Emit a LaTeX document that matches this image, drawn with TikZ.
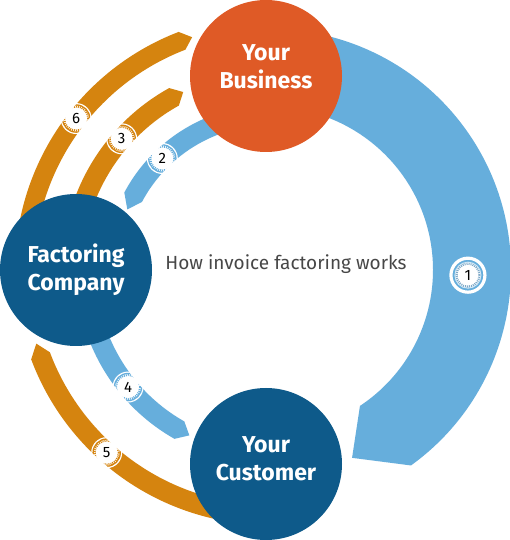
\documentclass[tikz,border=0pt]{standalone}
\usepackage{fontspec}
\setmainfont{Fira Sans}
\definecolor{bizorange}{HTML}{DF5A26}
\definecolor{darkblue}{HTML}{0E5A8A}
\definecolor{bandblue}{HTML}{66AEDC}
\definecolor{bandorange}{HTML}{D5840F}
\definecolor{textgray}{HTML}{474747}
\definecolor{gearblue}{HTML}{7FA9C8}
\newcommand\bandarc[6]{% color, rin, rout, start, end, tip
  \fill[#1] (#4:#2) arc[start angle=#4,end angle=#5,radius=#2]
    -- (#6:{(#2+#3)/2}) -- (#5:#3)
    arc[start angle=#5,end angle=#4,radius=#3] -- cycle;}
\newcommand\badge[6]{% angle, r, color, rin, rout, number
  \fill[white] (#1:#2) circle (15.5);
  \begin{scope}[even odd rule]
    \clip (0,0) circle (#4) (0,0) circle (#5);
    \draw[#3, line width=1.3] (#1:#2) circle (13.6);
    \draw[#3, line width=2.2, dash pattern=on 1pt off 1pt] (#1:#2) circle (12);
  \end{scope}
  \fill[white] (#1:#2) circle (10.8);
  \node[numtext] (b#6) at (#1:#2) {#6};}
\tikzset{
  circ/.style={circle, minimum size=152pt, inner sep=0pt},
  lbl/.style={text=white, align=center, font=\fontsize{23}{28}\selectfont\bfseries},
  numtext/.style={inner sep=0pt, text=black, font=\fontsize{15}{16}\selectfont},
}
\begin{document}
\begin{tikzpicture}[x=1pt,y=1pt]
\useasboundingbox (0,0) rectangle (510,540);
\fill[white] (0,0) rectangle (510,540);
\begin{scope}[shift={(270,270)}]
  % arc 1
  \fill[bandblue] (90:163) arc[start angle=90,end angle=-56.5,radius=163]
    -- (-66.4:205) -- (-54.2:241) arc[start angle=-54.2,end angle=90,radius=241] -- cycle;
  \bandarc{bandblue}{145}{165}{100}{152}{157}
  \bandarc{bandorange}{188}{208}{175}{119}{116}
  \bandarc{bandorange}{236}{255}{178}{111}{108.5}
  \bandarc{bandblue}{174}{194}{195}{240.5}{244}
  \bandarc{bandorange}{235}{255}{265}{200.5}{197.5}
  % badges
  \badge{142}{246}{bandorange}{236}{255}{6}
  \badge{138.5}{198}{bandorange}{188}{208}{3}
  \badge{134}{155}{bandblue}{145}{165}{2}
  \badge{219.5}{184}{bandblue}{174}{194}{4}
  \badge{228.2}{245}{bandorange}{235}{255}{5}
  % badge 1
  \draw[white, line width=3.2] (-1.5:198) circle (17);
  \draw[white!70!bandblue, line width=1] (-1.5:198) circle (13);
  \fill[white] (-1.5:198) circle (12.4);
  \draw[gearblue, line width=2.2, dash pattern=on 1pt off 1pt] (-1.5:198) circle (11.3);
  \fill[white] (-1.5:198) circle (10.2);
  \node[numtext] (b1) at (-1.5:198) {1};
\end{scope}
\node[circ, fill=bizorange] (biz) at (266,464) {};
\node[circ, fill=darkblue] (fac) at (76,270) {};
\node[circ, fill=darkblue] (cus) at (266,76) {};
\node[lbl] (bizt) at ([yshift=9pt]biz.center) {Your\\Business};
\node[lbl] (fact) at ([yshift=0pt]fac.center) {Factoring\\Company};
\node[lbl] (cust) at ([yshift=5pt]cus.center) {Your\\Customer};
\node[anchor=base, inner sep=0pt, text=textgray, font=\fontsize{19}{22}\selectfont] (title) at (286,270) {How invoice factoring works};
\end{tikzpicture}
\end{document}
